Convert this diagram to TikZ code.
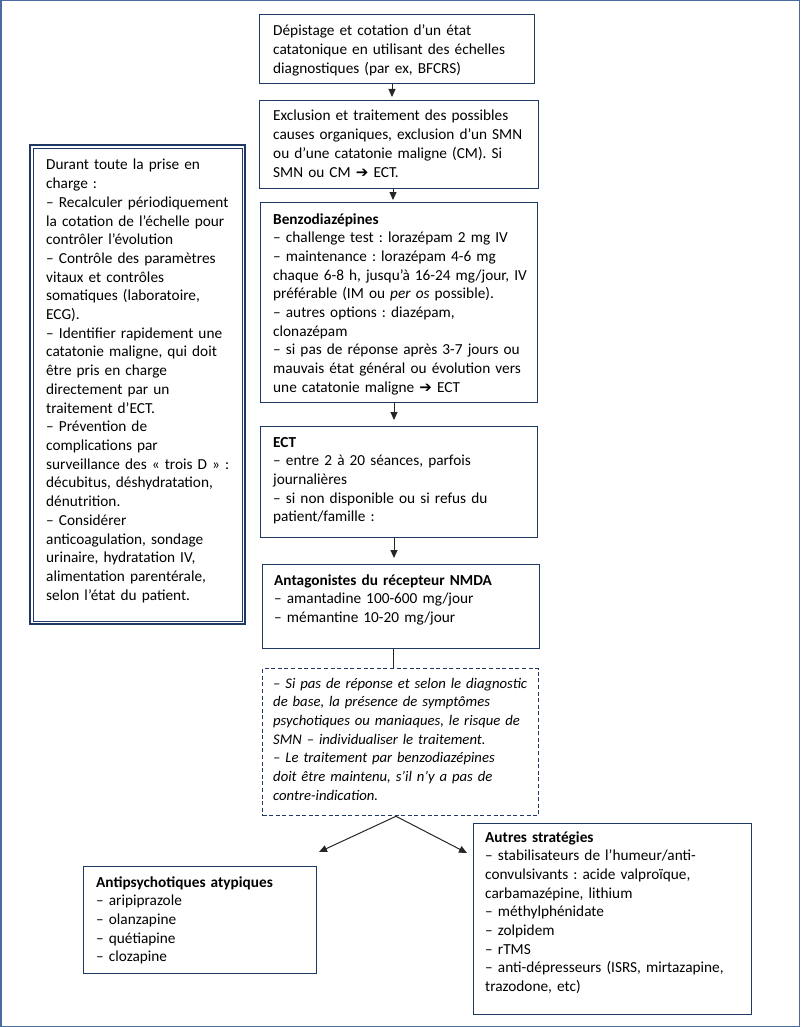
\documentclass[tikz,border=0pt]{standalone}
\usepackage{fontspec}
\setmainfont{Carlito}
\newfontfamily\symfont{DejaVu Sans}
\usetikzlibrary{arrows.meta,calc}
\definecolor{navy}{HTML}{1F3864}
\definecolor{framecol}{HTML}{4A6AA0}
\newcommand{\rarr}{{\symfont\bfseries\fontsize{15}{15}\selectfont ➔}}
\frenchspacing
\begin{document}
\begin{tikzpicture}[x=1pt,y=-1pt,
  box/.style={draw=navy, line width=1.4pt, inner sep=0pt, anchor=north west},
  txt/.style={inner sep=0pt, anchor=base west, text width=#1, align=left,
    font=\frenchspacing\fontsize{15.3}{18.7}\selectfont},
  txt/.default=300pt,
  itxt/.style={txt, font=\frenchspacing\itshape\fontsize{14.7}{18.7}\selectfont},
  arr/.style={-{Triangle[length=8pt,width=7pt]}, line width=1pt, draw=black!85},
  link/.style={line width=1pt, draw=black!85}
]
\useasboundingbox (0,0) rectangle (800,1027);
\draw[framecol, line width=1.5pt] (0.75,0.75) rectangle (799.25,1026.25);

% main boxes
\node[box, minimum width=275pt, minimum height=69pt] (b1) at (259,14) {};
\node[box, minimum width=279pt, minimum height=88pt] (b2) at (259,100) {};
\node[box, minimum width=277pt, minimum height=200pt] (b3) at (260,202) {};
\node[box, minimum width=277pt, minimum height=111pt] (b4) at (260,426) {};
\node[box, minimum width=277pt, minimum height=84pt] (b5) at (262,564) {};
\node[box, dashed, dash pattern=on 4pt off 2.6pt, line width=1.3pt, minimum width=276pt, minimum height=147pt] (b6) at (262,668) {};
\node[box, minimum width=233pt, minimum height=107pt] (b7) at (83,866) {};
\node[box, minimum width=278pt, minimum height=191pt] (b8) at (473,823) {};
\node[box, line width=2pt, minimum width=215pt, minimum height=479pt] (b0) at (29,144) {};
\draw[navy, line width=0.8pt] ($(b0.north west)+(4,4)$) rectangle ($(b0.south east)+(-4,-4)$);

% texts
\node[txt] (t1) at (273,36) {Dépistage et cotation d’un état\\ catatonique en utilisant des échelles\\ diagnostiques (par ex, BFCRS)};
\node[txt] (t2) at (273,121) {Exclusion et traitement des possibles\\ causes organiques, exclusion d’un SMN\\ ou d’une catatonie maligne (CM). Si\\ SMN ou CM \rarr{} ECT.};
\node[txt] (t3) at (273,224) {\textbf{Benzodiazépines}\\ – challenge test : lorazépam 2 mg IV\\ – maintenance : lorazépam 4-6 mg\\ chaque 6-8 h, jusqu’à 16-24 mg/jour, IV\\ préférable (IM ou \textit{per os} possible).\\ – autres options : diazépam,\\ clonazépam\\ – si pas de réponse après 3-7 jours ou\\ mauvais état général ou évolution vers\\ une catatonie maligne \rarr{} ECT};
\node[txt] (t4) at (273,447) {\textbf{ECT}\\ – entre 2 à 20 séances, parfois\\ journalières\\ – si non disponible ou si refus du\\ patient/famille :};
\node[txt] (t5) at (274,585) {\textbf{Antagonistes du récepteur NMDA}\\ – amantadine 100-600 mg/jour\\ – mémantine 10-20 mg/jour};
\node[itxt] (t6) at (273,688) {– Si pas de réponse et selon le diagnostic\\ de base, la présence de symptômes\\ psychotiques ou maniaques, le risque de\\ SMN – individualiser le traitement.\\ – Le traitement par benzodiazépines\\ doit être maintenu, s’il n’y a pas de\\ contre-indication.};
\node[txt] (t7) at (96,887) {\textbf{Antipsychotiques atypiques}\\ – aripiprazole\\ – olanzapine\\ – quétiapine\\ – clozapine};
\node[txt] (t8) at (485,842) {\textbf{Autres stratégies}\\ – stabilisateurs de l’humeur/anti-\\ convulsivants : acide valproïque,\\ carbamazépine, lithium\\ – méthylphénidate\\ – zolpidem\\ – rTMS\\ – anti-dépresseurs (ISRS, mirtazapine,\\ trazodone, etc)};
\node[txt] (t0) at (46,170) {Durant toute la prise en\\ charge :\\ – Recalculer périodiquement\\ la cotation de l’échelle pour\\ contrôler l’évolution\\ – Contrôle des paramètres\\ vitaux et contrôles\\ somatiques (laboratoire,\\ ECG).\\ – Identifier rapidement une\\ catatonie maligne, qui doit\\ être pris en charge\\ directement par un\\ traitement d’ECT.\\ – Prévention de\\ complications par\\ surveillance des «~trois D~» :\\ décubitus, déshydratation,\\ dénutrition.\\ – Considérer\\ anticoagulation, sondage\\ urinaire, hydratation IV,\\ alimentation parentérale,\\ selon l’état du patient.};

% connectors
\coordinate (c1) at (392,97);
\coordinate (c2) at (393,200);
\coordinate (c3) at (394,420);
\coordinate (c4) at (394,558);
\coordinate (c5) at (393,660);
\coordinate (d0) at (396,815);
\coordinate (d1) at (319,852);
\coordinate (d2) at (467,853);
\draw[arr] (c1 |- b1.south) -- (c1);
\draw[arr] (c2 |- b2.south) -- (c2);
\draw[arr] (c3 |- b3.south) -- (c3);
\draw[arr] (c4 |- b4.south) -- (c4);
\draw[link] (c5 |- b5.south) -- (c5 |- b6.north);
\draw[arr] (d0 |- b6.south) -- (d1);
\draw[arr] (d0 |- b6.south) -- (d2);
\end{tikzpicture}
\end{document}
